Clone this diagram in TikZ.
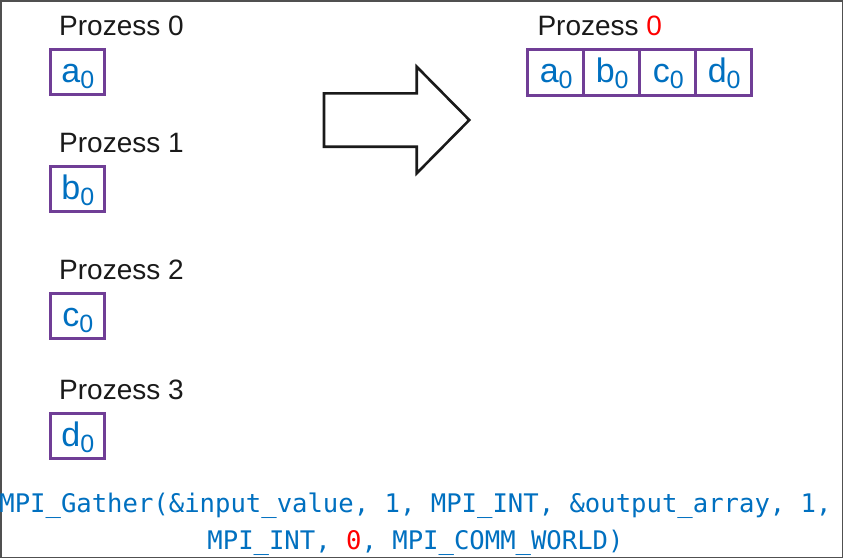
\documentclass[tikz,border=0pt]{standalone}
\usepackage{fontspec}
\setmainfont{Liberation Sans}
\newfontfamily\codefont{DejaVu Sans Mono}
\definecolor{boxpurple}{RGB}{112,62,150}
\definecolor{txtblue}{RGB}{0,112,192}
\definecolor{txtred}{RGB}{255,0,0}
\definecolor{txtblack}{RGB}{26,26,26}
\definecolor{framegray}{RGB}{80,80,80}
\begin{document}
\begin{tikzpicture}[x=1pt,y=-1pt,
  cellbox/.style={draw=boxpurple,line width=2.8pt,minimum width=54pt,minimum height=45pt,inner sep=0pt},
  rowbox/.style={draw=boxpurple,line width=2.8pt,minimum width=56pt,minimum height=45.5pt,inner sep=0pt},
  proclabel/.style={anchor=base west,inner sep=0pt,text=txtblack,font=\fontsize{28}{30}\selectfont},
  vallabel/.style={anchor=base,inner sep=0pt,text=txtblue,font=\fontsize{34}{36}\selectfont},
  codeline/.style={anchor=base,inner sep=0pt,text=txtblue,font=\codefont\fontsize{25.6}{28}\selectfont},
  bigarrow/.style={draw=txtblack,line width=2.6pt,line join=miter,fill=white}
]
\useasboundingbox (0,0) rectangle (843,558);
\fill[white] (0,0) rectangle (843,558);
\draw[framegray,line width=1.5pt] (0.75,0.75) rectangle (842.25,557.25);

\newcommand{\subz}{\raisebox{-6pt}{\fontsize{25}{25}\selectfont 0}}

% left column
\node[proclabel] (p0) at (59,35) {Prozess 0};
\node[cellbox] (ba) at (77.5,72.2) {};
\node[vallabel] (la) at (77.8,82) {a\subz};

\node[proclabel] (p1) at (59,152.3) {Prozess 1};
\node[cellbox] (bb) at (77.5,189.2) {};
\node[vallabel] (lb) at (77.8,199.2) {b\subz};

\node[proclabel] (p2) at (59,279.3) {Prozess 2};
\node[cellbox] (bc) at (77.5,316.3) {};
\node[vallabel] (lc) at (77.8,326.5) {c\subz};

\node[proclabel] (p3) at (59,399.3) {Prozess 3};
\node[cellbox] (bd) at (77.5,436.2) {};
\node[vallabel] (ld) at (77.8,446.2) {d\subz};

% arrow
\draw[bigarrow] (324,93.3) -- (416.7,93.3) -- (416.7,66.7) -- (469.3,120) -- (416.7,173.3) -- (416.7,146.7) -- (324,146.7) -- cycle;

% right
\node[proclabel] (pr) at (537.3,35) {Prozess \textcolor{txtred}{0}};
\node[rowbox] (ra) at (555.4,72.5) {};
\node[rowbox] (rb) at (611.4,72.5) {};
\node[rowbox] (rc) at (667.4,72.5) {};
\node[rowbox] (rd) at (723.4,72.5) {};
\node[vallabel] (lra) at (556.2,82.3) {a\subz};
\node[vallabel] (lrb) at (612.2,82.3) {b\subz};
\node[vallabel] (lrc) at (668.2,82.3) {c\subz};
\node[vallabel] (lrd) at (724.2,82.3) {d\subz};

% code
\node[codeline] (c1) at (415.5,512.7) {MPI\_Gather(\&input\_value, 1, MPI\_INT, \&output\_array, 1,};
\node[codeline] (c2) at (415.5,549) {MPI\_INT, \textcolor{txtred}{0}, MPI\_COMM\_WORLD)};
\end{tikzpicture}
\end{document}
